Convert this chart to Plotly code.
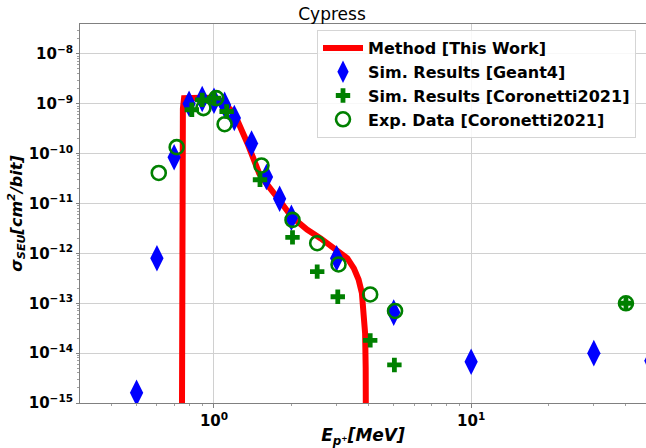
import plotly.graph_objects as go

# ---- data ----
method_E = [0.75, 0.751, 0.752, 0.754, 0.757, 0.765, 0.8, 0.9, 1.0, 1.05, 1.1, 1.2, 1.35, 1.5,
            1.6, 1.7, 1.8, 2.0, 2.3, 2.6, 3.0, 3.3, 3.5, 3.65, 3.76, 3.83, 3.87, 3.89, 3.9]
method_S = [1e-16, 1e-13, 1e-11, 1e-10, 8e-10, 1.3e-9, 1.32e-9, 1.32e-9, 1.3e-9, 1.2e-9, 1.0e-9,
            6.4e-10, 1.6e-10, 4e-11, 2.5e-11, 1.6e-11, 1.15e-11, 5.5e-12, 3.0e-12, 2.0e-12,
            1.2e-12, 8e-13, 5e-13, 3e-13, 1.6e-13, 7e-14, 2.5e-14, 5e-15, 1e-16]

geant4_E = [0.5, 0.6, 0.7, 0.8, 0.9, 1.0, 1.1, 1.2, 1.4, 1.6, 1.8, 2.0, 3.0, 5.0, 10, 30, 50]
geant4_S = [1.6e-15, 8e-13, 8.5e-11, 1.0e-9, 1.25e-9, 1.15e-9, 9.5e-10, 5.2e-10, 1.6e-10,
            3.4e-11, 1.25e-11, 5.2e-12, 8e-13, 6.5e-14, 6.7e-15, 1.0e-14, 7e-15]

corsim_E = [0.82, 0.9, 1.0, 1.12, 1.51, 2.02, 2.52, 3.03, 4.05, 5.03, 40]
corsim_S = [7.6e-10, 1.2e-9, 1.3e-9, 7e-10, 3e-11, 2.1e-12, 4.3e-13, 1.35e-13, 1.8e-14, 5.8e-15, 1e-13]

exp_E = [0.61, 0.716, 0.91, 1.02, 1.1, 1.53, 2.02, 2.52, 3.05, 4.05, 5.06, 40]
exp_S = [4.1e-11, 1.35e-10, 8.2e-10, 1.3e-9, 3.9e-10, 5.8e-11, 4.7e-12, 1.6e-12, 6e-13,
         1.5e-13, 7e-14, 1e-13]

y_exponents = [-8, -9, -10, -11, -12, -13, -14, -15]
x_exponents = [0, 1]

FONT = "DejaVu Sans"

fig = go.Figure()
fig.add_trace(go.Scatter(x=method_E, y=method_S, mode="lines", name="Method [This Work]",
                         line=dict(color="#ff0000", width=6)))
fig.add_trace(go.Scatter(x=geant4_E, y=geant4_S, mode="markers", name="Sim. Results [Geant4]",
                         marker=dict(symbol="diamond-tall", size=19, color="#0000ff")))
fig.add_trace(go.Scatter(x=corsim_E, y=corsim_S, mode="markers", name="Sim. Results [Coronetti2021]",
                         marker=dict(symbol="cross", size=12, color="#008000")))
fig.add_trace(go.Scatter(x=exp_E, y=exp_S, mode="markers", name="Exp. Data [Coronetti2021]",
                         marker=dict(symbol="circle-open", size=14, color="#008000",
                                     line=dict(width=2.6, color="#008000"))))

ymin_vals = []
for e in range(-16, -6):
    for m in range(2, 10):
        ymin_vals.append(m * 10.0 ** e)
xmin_vals = [m * 10.0 ** e for e in range(-1, 2) for m in range(2, 10)]

fig.update_layout(
    width=646, height=448,
    margin=dict(l=80, r=0, t=24, b=45, autoexpand=False),
    paper_bgcolor="white", plot_bgcolor="white",
    font=dict(family=FONT, color="black"),
    title=dict(text="Cypress", x=332 / 646, xref="container", xanchor="center",
               y=1 - 14 / 448, yref="container", yanchor="middle",
               font=dict(size=17, family=FONT)),
    showlegend=True,
    legend=dict(x=(317 - 80) / 566, y=(403 - 30) / 379, xanchor="left", yanchor="top",
                bgcolor="rgba(255,255,255,0.85)", bordercolor="#d5d5d5", borderwidth=1,
                font=dict(size=16, family=FONT, weight="bold"),
                tracegroupgap=0, itemwidth=40),
)

fig.update_xaxes(
    type="log", range=[-0.521, 1.68], automargin=False,
    tickvals=[10 ** e for e in x_exponents],
    ticktext=["<b>10<sup>%d</sup></b>" % e for e in x_exponents],
    tickfont=dict(size=15, family=FONT),
    ticks="outside", ticklen=4, tickcolor="#808080",
    showgrid=True, gridcolor="#d0d0d0", gridwidth=1,
    showline=True, linecolor="#808080", linewidth=1, mirror=True,
    minor=dict(tickvals=xmin_vals, ticks="outside", ticklen=2, tickcolor="#a0a0a0", showgrid=False),
    zeroline=False,
    title=dict(text="<b><i>E<sub>p⁺</sub>[MeV]</i></b>", font=dict(size=17, family=FONT), standoff=0),
)
fig.update_yaxes(
    type="log", range=[-15, -7.4], automargin=False,
    tickvals=[10.0 ** e for e in y_exponents],
    ticktext=["<b>10<sup>−%d</sup></b>" % (-e) for e in y_exponents],
    tickfont=dict(size=15, family=FONT),
    ticks="outside", ticklen=3, tickcolor="#808080",
    showgrid=True, gridcolor="#d0d0d0", gridwidth=1,
    showline=True, linecolor="#808080", linewidth=1, mirror=False,
    minor=dict(tickvals=ymin_vals, ticks="outside", ticklen=2, tickcolor="#a0a0a0", showgrid=False),
    zeroline=False,
    title=dict(text="<b><i>σ<sub>SEU</sub>[cm<sup>2</sup>/bit]</i></b>", font=dict(size=16, family=FONT),
               standoff=2),
)

fig.write_html("out.html", config={"displayModeBar": False},
               post_script="document.body.style.margin='0';document.body.style.padding='0';")
